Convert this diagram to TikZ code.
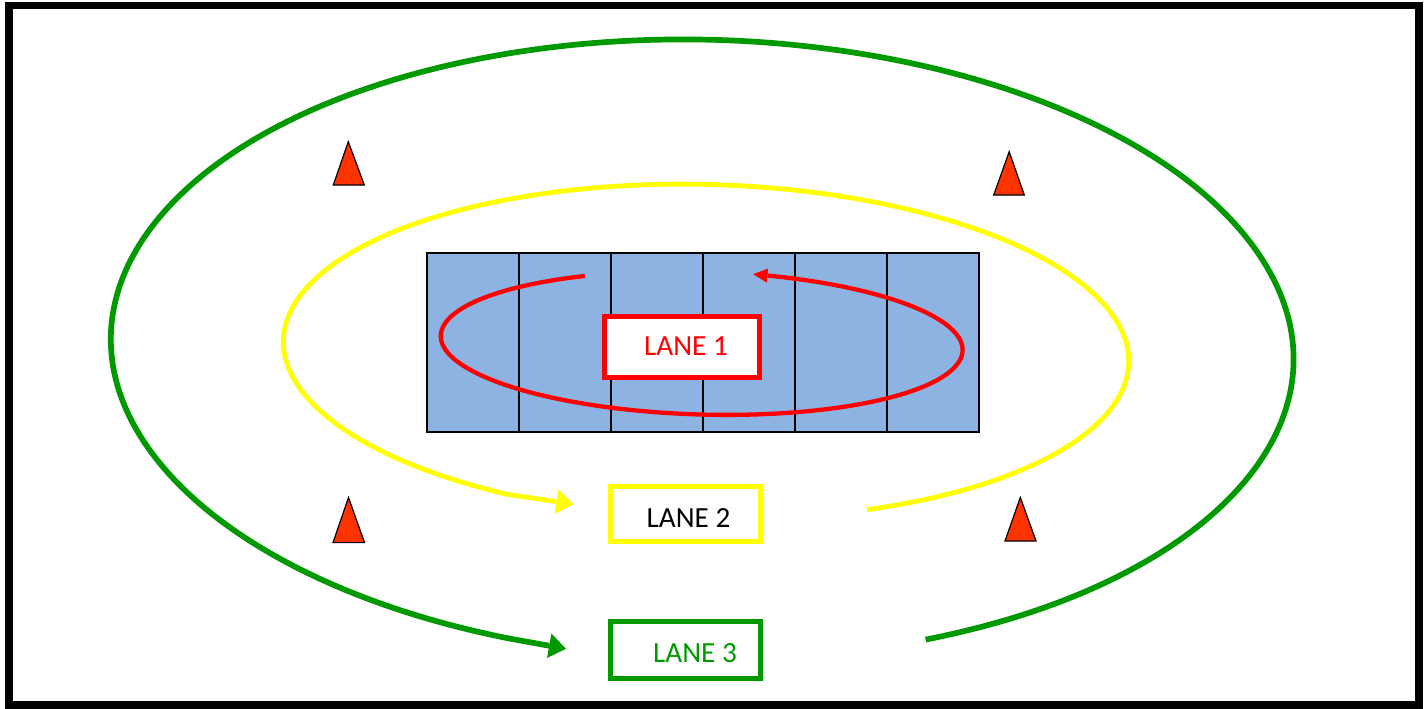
\documentclass[tikz,border=0pt]{standalone}
\usepackage{fontspec}
\setmainfont{Carlito}
\definecolor{lanered}{HTML}{FF0000}
\definecolor{laneyellow}{HTML}{FFFF00}
\definecolor{lanegreen}{HTML}{009A00}
\definecolor{conered}{HTML}{FF3300}
\definecolor{courtblue}{HTML}{8DB3E2}

\begin{document}
\begin{tikzpicture}[x=0.01cm, y=-0.01cm,
    lanebox/.style={line width=0.05cm, fill=white},
    lanetext/.style={font=\fontsize{8.3}{10}\selectfont},
    cone/.style={fill=conered, draw=black, line width=0.012cm, line join=miter}]
    \tikzstyle{every node}+=[inner sep=0pt]
    \useasboundingbox (0,0) rectangle (1426,708);
    \fill [white] (0,0) rectangle (1426,708);
    \draw [black, line width=0.075cm] (8.8,5.5) rectangle (1419,705);
    \begin{scope}[shift={(702.2,349.2)}, rotate=-1.34]
    \draw [lanegreen, line width=0.057cm] (67.1:591.4 and 309.5) arc [start angle=67.1, end angle=-251.7, x radius=591.4, y radius=309.5] -- (-146.0,300.05);
    \fill [lanegreen] (-129.2,302.7) -- (-147.9,312.4) -- (-144.1,287.7);
    \end{scope}
    \begin{scope}[shift={(706.05,351.5)}, rotate=-1.56]
    \draw [laneyellow, line width=0.048cm] (67:422.8 and 167) arc [start angle=67, end angle=-242.5, x radius=422.8, y radius=167] -- (-145.4,154.2);
    \fill [laneyellow] (-128.5,156.3) -- (-146.9,166.6) -- (-143.9,141.8);
    \end{scope}
    \fill [courtblue] (427,253) rectangle (979,432);
    \draw [black, line width=0.015cm] (427,253) rectangle (979,432);
    \foreach \x in {519,611,703,795,887}
      \draw [black, line width=0.015cm] (\x,253) -- (\x,432);
    \begin{scope}[shift={(701.7,343)}, rotate=-1.65]
    \draw [lanered, line width=0.043cm] (-117.1:261 and 71.5) arc [start angle=-117.1, end angle=-435.84, x radius=261, y radius=71.5];
    \fill [lanered] (49.35,-70.3) -- (64.3,-76.3) -- (63.3,-62.3);
    \end{scope}
    \draw [lanered, lanebox] (604.2,316.2) rectangle (759.3,377.8);
    \draw [laneyellow, lanebox] (610.5,486.5) rectangle (760.5,541.5);
    \draw [lanegreen, lanebox] (610.5,621.5) rectangle (760.5,678.5);
    \draw (686,346) node (lane1) [lanetext, lanered] {LANE 1};
    \draw (688.5,517.8) node (lane2) [lanetext] {LANE 2};
    \draw (695,652.8) node (lane3) [lanetext, lanegreen] {LANE 3};
    \draw [cone] (348.3,141.7) -- (364.3,185) -- (333.3,185) -- cycle;
    \draw [cone] (1009.2,151.7) -- (1024.3,195) -- (993.7,195) -- cycle;
    \draw [cone] (348.5,497.5) -- (364.5,542.6) -- (333,542.6) -- cycle;
    \draw [cone] (1020.3,497.3) -- (1036,541) -- (1005,541) -- cycle;
\end{tikzpicture}
\end{document}
